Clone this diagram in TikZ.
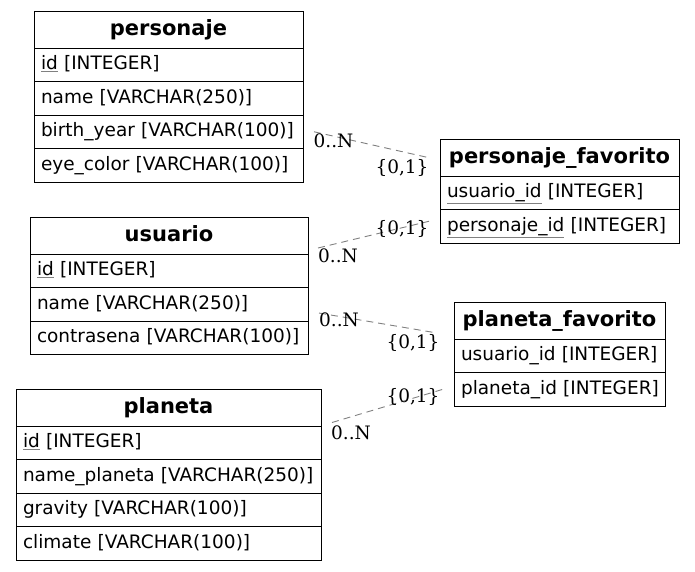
\documentclass[tikz,border=0pt]{standalone}
\usepackage{fontspec}
\setmainfont{DejaVu Sans}
\newfontfamily\cardfont{DejaVu Serif}
\usetikzlibrary{positioning}

\definecolor{fkgray}{HTML}{808080}
\newcommand{\tabfont}{\fontsize{18.5pt}{22pt}\selectfont}
\newcommand{\headfont}{\fontsize{21pt}{25pt}\selectfont\bfseries}
\newcommand{\pkey}[1]{{\color{fkgray}$\underline{\hbox{\color{black}#1}}$}}

\tikzset{
  thead/.style={draw, outer sep=0pt, anchor=north west, minimum width=#1,
    minimum height=37pt, text height=15.5pt, text depth=4.5pt, font=\headfont},
  trow/.style={draw, outer sep=0pt, minimum width=#1, text width=#1-14pt,
    inner xsep=7pt, align=left, minimum height=33.5pt, text height=13.5pt,
    text depth=4pt, font=\tabfont,
    execute at begin node={\hyphenpenalty=10000\hfuzz=20pt}},
  fk/.style={draw=fkgray, dash pattern=on 7pt off 5pt, line width=0.9pt},
  card/.style={font=\tabfont\cardfont, inner sep=0pt}
}

\begin{document}
\begin{tikzpicture}[x=1pt, y=-1pt]
\useasboundingbox (0,0) rectangle (695,571);

% tables
\node[thead=269pt] (personaje) at (34,11) {personaje};
\node[trow=269pt, below=0pt of personaje] (personaje-id) {\pkey{id} [INTEGER]};
\node[trow=269pt, below=0pt of personaje-id] (personaje-name) {name [VARCHAR(250)]};
\node[trow=269pt, below=0pt of personaje-name] (personaje-birth) {birth\_year [VARCHAR(100)]};
\node[trow=269pt, below=0pt of personaje-birth] (personaje-eye) {eye\_color [VARCHAR(100)]};

\node[thead=278pt] (usuario) at (30,217) {usuario};
\node[trow=278pt, below=0pt of usuario] (usuario-id) {\pkey{id} [INTEGER]};
\node[trow=278pt, below=0pt of usuario-id] (usuario-name) {name [VARCHAR(250)]};
\node[trow=278pt, below=0pt of usuario-name] (usuario-pass) {contrasena [VARCHAR(100)]};

\node[thead=305pt] (planeta) at (16,389) {planeta};
\node[trow=305pt, below=0pt of planeta] (planeta-id) {\pkey{id} [INTEGER]};
\node[trow=305pt, below=0pt of planeta-id] (planeta-name) {name\_planeta [VARCHAR(250)]};
\node[trow=305pt, below=0pt of planeta-name] (planeta-grav) {gravity [VARCHAR(100)]};
\node[trow=305pt, below=0pt of planeta-grav] (planeta-clim) {climate [VARCHAR(100)]};

\node[thead=239pt] (pfav) at (440,139) {personaje\_favorito};
\node[trow=239pt, below=0pt of pfav] (pfav-usr) {\pkey{usuario\_id} [INTEGER]};
\node[trow=239pt, below=0pt of pfav-usr] (pfav-per) {\pkey{personaje\_id} [INTEGER]};

\node[thead=211pt] (plfav) at (454,302) {planeta\_favorito};
\node[trow=211pt, below=0pt of plfav] (plfav-usr) {usuario\_id~[INTEGER]};
\node[trow=211pt, below=0pt of plfav-usr] (plfav-pla) {planeta\_id~[INTEGER]};

% relations
\draw[fk] ([xshift=11pt]personaje-birth.east) -- ([xshift=-12pt]pfav.west)
  node[card, at start, xshift=19.5pt, yshift=-9pt] {0..N}
  node[card, at end, xshift=-26pt, yshift=-10pt] {\{0,1\}};
\draw[fk] ([shift={(10pt,6pt)}]usuario-id.north east) -- ([shift={(-11pt,5pt)}]pfav-per.west)
  node[card, at start, xshift=20pt, yshift=-8pt] {0..N}
  node[card, at end, xshift=-27pt, yshift=-8pt] {\{0,1\}};
\draw[fk] ([shift={(11pt,8pt)}]usuario-pass.north east) -- ([shift={(-17pt,6pt)}]plfav-usr.north west)
  node[card, at start, xshift=20pt, yshift=-7pt] {0..N}
  node[card, at end, xshift=-24pt, yshift=-10pt] {\{0,1\}};
\draw[fk] ([shift={(11pt,-15pt)}]planeta.east) -- ([xshift=-11pt]plfav-pla.west)
  node[card, at start, xshift=19pt, yshift=-10pt] {0..N}
  node[card, at end, xshift=-30pt, yshift=-8pt] {\{0,1\}};
\end{tikzpicture}
\end{document}
